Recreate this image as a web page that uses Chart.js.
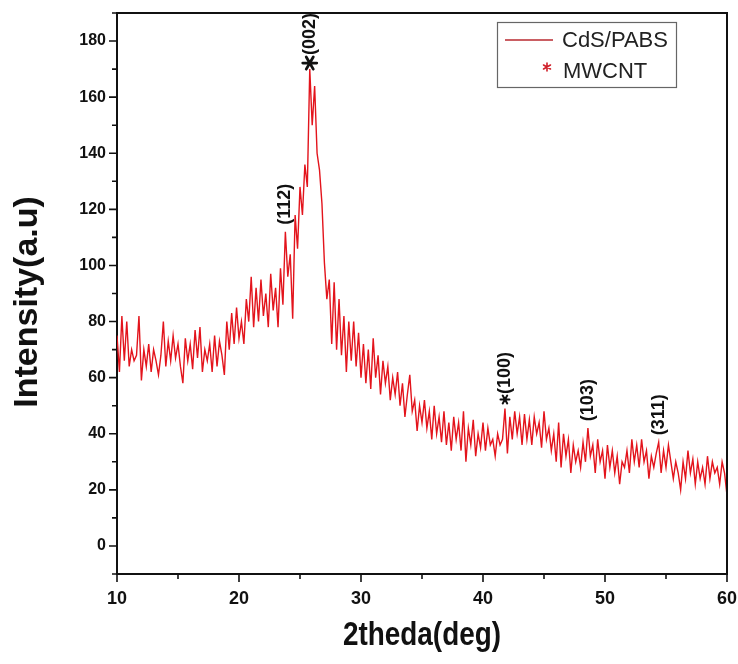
<!DOCTYPE html>
<html lang="pt-BR">
<head>
<meta charset="UTF-8">
<title>DRX CdS/PABS</title>
<script src="https://cdn.jsdelivr.net/npm/chart.js"></script>
<style>
    body { margin: 0; background: #fff; }
    #caixaGrafico { width: 738px; height: 664px; }
</style>
</head>
<body>
<div id="caixaGrafico"><canvas id="graficoDRX" width="738" height="664"></canvas></div>
<script>
// Intensidade de 10° a 60°, uma leitura a cada 0,2° (cada linha = 2°)
const intensidade = [
    75, 62, 82, 66, 80, 64, 70, 66, 68, 82,
    59, 70, 64, 72, 62, 70, 66, 61, 68, 80,
    64, 73, 66, 75, 67, 72, 64, 58, 74, 66,
    72, 63, 77, 67, 78, 62, 70, 66, 72, 62,
    75, 64, 73, 68, 61, 80, 70, 83, 72, 85,
    74, 80, 72, 88, 80, 96, 78, 92, 80, 95,
    82, 90, 78, 97, 84, 92, 78, 99, 86, 112,
    96, 104, 81, 118, 106, 128, 118, 136, 128, 170,
    150, 164, 140, 134, 122, 101, 88, 95, 72, 94,
    70, 88, 68, 82, 62, 80, 66, 80, 64, 76,
    60, 72, 58, 70, 56, 74, 60, 68, 54, 66,
    58, 64, 52, 60, 54, 62, 50, 58, 46, 54,
    61, 48, 52, 41, 50, 44, 52, 42, 48, 38,
    50, 40, 46, 37, 48, 36, 44, 34, 46, 38,
    44, 34, 48, 30, 42, 36, 45, 32, 40, 35,
    44, 34, 42, 36, 38, 32, 40, 36, 38, 49,
    33, 46, 38, 48, 40, 46, 36, 47, 38, 45,
    36, 46, 40, 44, 35, 48, 38, 42, 34, 40,
    30, 44, 28, 40, 32, 38, 26, 36, 30, 34,
    28, 37, 30, 42, 32, 36, 26, 38, 30, 34,
    24, 36, 28, 34, 26, 32, 22, 30, 28, 34,
    26, 38, 30, 36, 28, 38, 30, 34, 24, 32,
    28, 33, 37, 26, 34, 28, 36, 30, 24, 30,
    26, 20, 30, 24, 34, 26, 31, 22, 30, 24,
    28, 22, 32, 24, 30, 26, 28, 22, 30, 26,
    18
];
const anguloInicial = 10;
const passo = 0.2;
const angulos = intensidade.map((_, i) => Number((anguloInicial + i * passo).toFixed(1)));

const ticksX = [10, 20, 30, 40, 50, 60];
const ticksY = [0, 20, 40, 60, 80, 100, 120, 140, 160, 180];

// Picos indexados (2θ) e quais vêm do MWCNT
const picos = [25.8, 23.8, 41.8, 48.6, 54.4];
const indicesPicos = ['(002)', '(112)', '(100)', '(103)', '(311)'];
const picosMWCNT = [true, false, true, false, false];

const nomeSerie = 'CdS/PABS';
const nomeMarcador = 'MWCNT';
const tituloX = '2theda(deg)';
const tituloY = 'Intensity(a.u)';

const fonte = '"Liberation Sans", Arial, sans-serif';

// Asterisco de 6 pontas (ang = direção de um dos braços)
function asterisco(ctx, x, y, r, cor, largura, ang) {
    ctx.save();
    ctx.strokeStyle = cor;
    ctx.lineWidth = largura;
    ctx.lineCap = 'round';
    ctx.beginPath();
    for (let k = 0; k < 3; k++) {
        const a = ang + k * Math.PI / 3;
        ctx.moveTo(x + r * Math.cos(a), y + r * Math.sin(a));
        ctx.lineTo(x - r * Math.cos(a), y - r * Math.sin(a));
    }
    ctx.stroke();
    ctx.restore();
}

// Moldura de cima/direita, marcações dos eixos e títulos dos eixos
const moldura = {
    id: 'moldura',
    afterDraw(chart) {
        const { ctx, chartArea: area, scales: { x, y } } = chart;
        ctx.save();
        ctx.strokeStyle = '#111';
        ctx.lineWidth = 2;
        ctx.beginPath();
        ctx.moveTo(area.left, area.top);
        ctx.lineTo(area.right, area.top);
        ctx.lineTo(area.right, area.bottom);
        ctx.stroke();

        ctx.lineWidth = 1.6;
        ctx.beginPath();
        for (let v = x.min; v <= x.max; v += 5) {
            const px = x.getPixelForValue(v);
            const tam = v % 10 === 0 ? 8 : 5;
            ctx.moveTo(px, area.bottom);
            ctx.lineTo(px, area.bottom + tam);
        }
        for (let v = y.min; v <= y.max; v += 10) {
            const py = y.getPixelForValue(v);
            const tam = v % 20 === 0 ? 8 : 5;
            ctx.moveTo(area.left, py);
            ctx.lineTo(area.left - tam, py);
        }
        ctx.stroke();

        ctx.fillStyle = '#111';
        ctx.textAlign = 'center';

        // título do eixo x comprimido na horizontal
        ctx.save();
        ctx.font = 'bold 34px ' + fonte;
        ctx.textBaseline = 'alphabetic';
        ctx.translate((area.left + area.right) / 2, area.bottom + 71);
        ctx.scale(0.82, 1);
        ctx.fillText(tituloX, 0, 0);
        ctx.restore();

        // título do eixo y, em pé
        ctx.save();
        ctx.font = 'bold 34px ' + fonte;
        ctx.textBaseline = 'middle';
        ctx.translate(28, y.getPixelForValue(87));
        ctx.rotate(-Math.PI / 2);
        ctx.fillText(tituloY, 0, 0);
        ctx.restore();

        ctx.restore();
    }
};

// Rótulos (hkl) em pé sobre cada pico
const rotulosPicos = {
    id: 'rotulosPicos',
    afterDatasetsDraw(chart) {
        const { ctx, scales: { x, y } } = chart;
        const maior = Math.max(...intensidade);
        ctx.save();
        ctx.fillStyle = '#111';
        ctx.font = 'bold 18px ' + fonte;
        ctx.textBaseline = 'middle';
        ctx.textAlign = 'left';
        picos.forEach((angulo, i) => {
            const valor = intensidade[angulos.indexOf(angulo)];
            const px = x.getPixelForValue(angulo);
            const topo = y.getPixelForValue(valor);
            let py = topo - 7;
            if (picosMWCNT[i]) {
                const r = valor === maior ? 7 : 4.5;
                const centro = valor === maior ? topo - 6 : topo - 9;
                asterisco(ctx, px, centro, r, '#111', valor === maior ? 2.8 : 2, 0);
                py = centro - r - 1;
            }
            ctx.save();
            ctx.translate(px, py);
            ctx.rotate(-Math.PI / 2);
            ctx.fillText(indicesPicos[i], 0, 0);
            ctx.restore();
        });
        ctx.restore();
    }
};

// Legenda com caixa, no canto superior direito
const legenda = {
    id: 'legenda',
    afterDraw(chart) {
        const { ctx, chartArea: area } = chart;
        const larg = 179, alt = 65;
        const x0 = area.right - 51 - larg;
        const y0 = area.top + 9;
        ctx.save();
        ctx.strokeStyle = '#666';
        ctx.lineWidth = 1.2;
        ctx.strokeRect(x0 + 0.5, y0 + 0.5, larg, alt);

        ctx.strokeStyle = '#b8282f';
        ctx.lineWidth = 1.5;
        ctx.beginPath();
        ctx.moveTo(x0 + 8, y0 + 18);
        ctx.lineTo(x0 + 56, y0 + 18);
        ctx.stroke();

        ctx.font = '22px ' + fonte;
        ctx.fillStyle = '#222';
        ctx.textBaseline = 'middle';
        ctx.fillText(nomeSerie, x0 + 65, y0 + 19);
        asterisco(ctx, x0 + 50, y0 + 45, 4, '#d0202a', 1.6, Math.PI / 2);
        ctx.fillText(nomeMarcador, x0 + 66, y0 + 50);
        ctx.restore();
    }
};

new Chart(document.getElementById('graficoDRX'), {
    type: 'line',
    data: {
        datasets: [{
            label: nomeSerie,
            data: angulos.map((a, i) => ({ x: a, y: intensidade[i] })),
            borderColor: '#e3141c',
            borderWidth: 1.4,
            pointRadius: 0,
            tension: 0
        }]
    },
    options: {
        responsive: false,
        animation: false,
        layout: { padding: { top: 13, right: 11, left: 0, bottom: 0 } },
        plugins: {
            legend: { display: false },
            tooltip: { enabled: false }
        },
        scales: {
            x: {
                type: 'linear',
                min: 10,
                max: 60,
                afterBuildTicks: (s) => { s.ticks = ticksX.map(v => ({ value: v })); },
                afterFit: (s) => {
                    s.height = 90;
                    s.paddingLeft = 0;
                    s.paddingRight = 0;
                },
                grid: { display: false, drawTicks: false },
                border: { display: true, color: '#111', width: 2 },
                ticks: {
                    color: '#111',
                    padding: 14,
                    autoSkip: false,
                    maxRotation: 0,
                    font: { family: fonte, weight: 'bold', size: 18 }
                },
                title: { display: false }
            },
            y: {
                min: -10,
                max: 190,
                afterBuildTicks: (s) => { s.ticks = ticksY.map(v => ({ value: v })); },
                afterFit: (s) => {
                    s.width = 117;
                    s.paddingTop = 0;
                    s.paddingBottom = 0;
                },
                grid: { display: false, drawTicks: false },
                border: { display: true, color: '#111', width: 2 },
                ticks: {
                    color: '#111',
                    padding: 11,
                    autoSkip: false,
                    font: { family: fonte, weight: 'bold', size: 16 }
                },
                title: { display: false }
            }
        }
    },
    plugins: [moldura, rotulosPicos, legenda]
});
</script>
</body>
</html>
